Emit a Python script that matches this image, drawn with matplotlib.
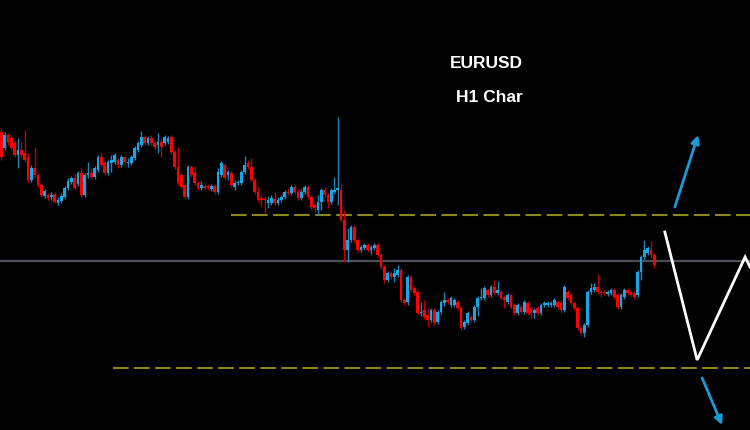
import numpy as np
import matplotlib.pyplot as plt

# prices are stored as pips below REF (bigger number = lower price)
REF = 1.1000
PIP = 0.0001

open_pips = [132, 148, 135, 138, 143, 155, 150, 153, 157, 180, 168, 175, 185, 196, 195, 197, 194, 203, 201, 197,
             188, 182, 178, 184, 173, 195, 175, 173, 177, 170, 157, 163, 173,
             163, 162, 160, 165, 157, 163, 163, 158, 150, 145, 137, 143, 138, 143, 145, 142, 143, 142, 137, 152,
             167, 175, 185, 197, 167, 173, 183, 188, 186, 186, 189, 186, 192,
             175, 165, 175, 173, 187, 183, 183, 172, 163, 167, 180, 192, 198, 199, 203, 203, 199, 203, 200, 197,
             192, 193, 187, 192, 198, 192, 187, 197, 205, 210, 202, 190, 195, 202, 192, 190, 190,
             220, 250, 240, 227, 240, 250, 248, 245, 250, 248, 245, 255, 267, 280, 273, 277, 275, 270, 300, 302,
             277, 288, 292, 313, 310, 315, 320, 310, 322, 312, 303, 300,
             305, 305, 302, 308, 327, 323, 317, 320, 307, 298, 298, 290, 295, 287, 293, 292, 297, 302, 295, 305,
             313, 307, 312, 303, 308, 313, 308, 313, 305, 305, 305, 305, 302,
             303, 310, 292, 295, 303, 308, 328, 333, 325, 292, 290, 287, 292, 292, 294, 293, 290, 295, 307, 297,
             290, 292, 293, 295, 272, 257, 253, 250, 255]
close_pips = [157, 135, 142, 148, 155, 150, 155, 160, 180, 168, 175, 185, 195, 191, 198, 195, 202, 200, 196, 188,
              181, 178, 188, 173, 195, 175, 173, 177, 168, 157, 165, 173, 162,
              160, 155, 165, 157, 162, 162, 157, 148, 143, 137, 143, 138, 143, 147, 142, 147, 137, 138, 152, 167,
              183, 187, 197, 167, 175, 183, 188, 185, 188, 188, 186, 192, 172,
              163, 178, 172, 185, 183, 182, 172, 165, 167, 180, 192, 200, 200, 200, 200, 198, 203, 200, 197, 192,
              193, 187, 192, 198, 192, 187, 197, 207, 208, 202, 190, 195, 202, 190, 190, 188, 220,
              250, 240, 227, 240, 250, 247, 245, 250, 247, 245, 255, 267, 280, 273, 277, 273, 270, 300, 303, 277,
              290, 293, 313, 312, 317, 320, 310, 323, 312, 302, 300, 302,
              298, 300, 308, 328, 322, 313, 320, 307, 298, 297, 288, 295, 287, 293, 290, 298, 300, 295, 307, 313,
              305, 312, 302, 313, 313, 310, 313, 305, 303, 303, 303, 300, 307,
              310, 287, 298, 303, 308, 328, 333, 325, 292, 288, 287, 292, 293, 293, 292, 290, 297, 307, 295, 290,
              293, 295, 297, 272, 257, 250, 248, 255, 265]
high_pips = [128, 132, 133, 135, 140, 138, 142, 130, 153, 165, 147, 173, 182, 189, 193, 192, 192, 197, 193, 186,
             178, 176, 173, 171, 168, 173, 162, 168, 166, 155, 153, 161, 160,
             155, 153, 158, 155, 155, 158, 155, 146, 141, 131, 135, 136, 135, 141, 133, 140, 135, 136, 135, 150,
             147, 173, 183, 165, 165, 166, 181, 181, 184, 184, 184, 184, 168,
             161, 163, 170, 171, 180, 180, 170, 156, 160, 158, 178, 187, 195, 196, 196, 195, 192, 197, 195, 190,
             188, 185, 185, 189, 189, 185, 185, 195, 203, 195, 188, 187, 193, 188, 177, 117, 183,
             210, 228, 225, 225, 238, 245, 243, 243, 245, 243, 243, 253, 265, 271, 271, 268, 265, 268, 298, 275,
             275, 286, 290, 302, 300, 308, 308, 308, 310, 300, 292, 298,
             296, 298, 300, 306, 320, 311, 315, 305, 296, 288, 286, 288, 285, 280, 281, 290, 295, 293, 293, 303,
             303, 305, 300, 301, 306, 308, 306, 303, 301, 301, 301, 298, 300,
             300, 285, 290, 293, 301, 306, 326, 323, 290, 283, 283, 274, 290, 290, 290, 288, 288, 293, 293, 288,
             288, 290, 291, 270, 255, 240, 246, 241, 253]
low_pips = [160, 150, 145, 150, 157, 168, 158, 162, 182, 182, 178, 187, 197, 198, 200, 200, 203, 205, 203, 199,
            190, 184, 190, 186, 197, 197, 178, 179, 179, 172, 167, 175, 175,
            172, 164, 168, 167, 164, 167, 165, 160, 152, 147, 145, 145, 145, 149, 153, 157, 145, 144, 154, 169,
            185, 189, 199, 199, 177, 185, 190, 190, 190, 190, 191, 194, 194,
            177, 180, 180, 187, 190, 185, 185, 174, 169, 182, 194, 202, 207, 213, 208, 205, 205, 205, 202, 199,
            195, 195, 194, 200, 200, 194, 199, 209, 212, 215, 210, 197, 208, 204, 194, 205, 222,
            262, 262, 242, 242, 252, 252, 250, 252, 254, 250, 257, 269, 283, 282, 279, 282, 277, 302, 305, 305,
            292, 295, 315, 316, 319, 327, 322, 325, 324, 314, 306, 304,
            307, 307, 310, 330, 329, 325, 322, 322, 316, 300, 300, 297, 297, 295, 295, 300, 308, 304, 309, 315,
            315, 314, 314, 315, 318, 318, 315, 315, 307, 307, 307, 307, 309,
            313, 312, 300, 305, 310, 330, 335, 337, 327, 294, 292, 294, 297, 295, 296, 295, 299, 309, 309, 299,
            295, 297, 299, 297, 280, 260, 255, 258, 268]

# horizontal levels (pips below REF) and the bar where each starts
resistance_pips, resistance_start = 215, 69
support_pips, support_start = 368, 33.5
pivot_pips = 261

# projected path drawn to the right of the chart (bar index, pips below REF)
zigzag_bar = [199.2, 208.9, 223.3, 224.8]
zigzag_pips = [232, 360, 257, 267]
arrow_up = ([202.2, 207], [209.2, 135])
arrow_down = ([210.4, 378], [216.4, 425])

title_lines = ['EURUSD', 'H1 Char']

BLUE = '#17a6e6'
RED = '#ff0000'

def to_price(p):
    return REF - np.asarray(p, dtype=float) * PIP

o = to_price(open_pips)
c = to_price(close_pips)
h = to_price(high_pips)
l = to_price(low_pips)
idx = np.arange(len(o))
up = c >= o
colors = np.where(up, BLUE, RED)

fig = plt.figure(figsize=(7.5, 4.3), dpi=100)
fig.patch.set_facecolor('black')
ax = fig.add_axes([0, 0, 1, 1])
ax.set_facecolor('black')

x_left = -0.45
x_right = x_left + 750 / 3.33
ax.set_xlim(x_left, x_right)
ax.set_ylim(REF - 430 * PIP, REF)

# levels
ax.axhline(to_price(pivot_pips), color='#4b4f57', lw=1.6, zorder=1)
dash = (0, (7.5, 2.6))
ax.hlines(to_price(resistance_pips), resistance_start, x_right,
          colors='#8a881a', lw=1.5, linestyles=[dash], zorder=1)
ax.hlines(to_price(support_pips), support_start, x_right,
          colors='#8a881a', lw=1.5, linestyles=[dash], zorder=1)

# candles
wick_cols = np.where(up, '#1b86b8', '#c00000')
ax.vlines(idx, l, h, colors=wick_cols, lw=1.0, zorder=2)
body_lo = np.minimum(o, c)
body_h = np.maximum(np.abs(c - o), 1.2 * PIP)
ax.bar(idx, body_h, bottom=body_lo, width=0.8, color=colors, linewidth=0, zorder=3)

# projection
ax.plot(zigzag_bar, to_price(zigzag_pips), color='white', lw=2.0, zorder=4,
        solid_joinstyle='miter')
for start, end in (arrow_up, arrow_down):
    ax.annotate('', xy=(end[0], to_price(end[1])), xytext=(start[0], to_price(start[1])),
                arrowprops=dict(arrowstyle='-|>', color='#1b9ad8', lw=2.0,
                                mutation_scale=12, shrinkA=0, shrinkB=0))

ax.text(0.649, 0.853, title_lines[0], transform=ax.transAxes, color='white',
        fontsize=12.5, fontweight='bold', family='Liberation Sans', ha='center', va='center')
ax.text(0.653, 0.774, title_lines[1], transform=ax.transAxes, color='white',
        fontsize=12.5, fontweight='bold', family='Liberation Sans', ha='center', va='center')

ax.axis('off')
fig.savefig('out.png', dpi=100, facecolor='black')
